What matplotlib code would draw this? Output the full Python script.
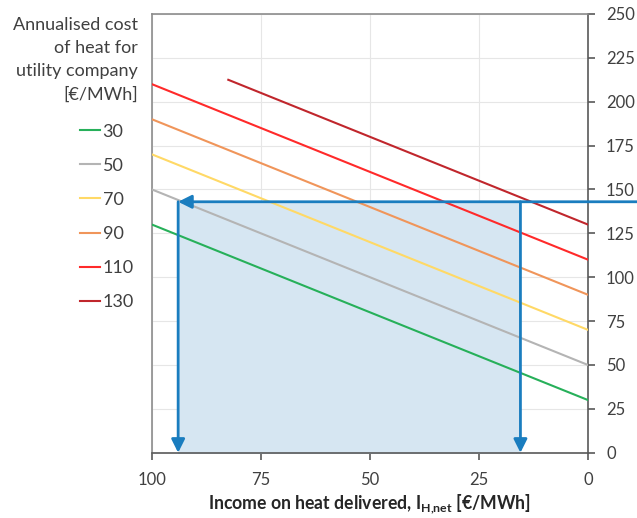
import matplotlib.pyplot as plt

plt.rcParams['font.family'] = ['Lato', 'DejaVu Sans']
plt.rcParams['mathtext.fontset'] = 'custom'
plt.rcParams['mathtext.rm'] = 'Lato'
plt.rcParams['mathtext.bf'] = 'Lato:bold'

# cost of heat lines (label, start/end points)
costs = ['30', '50', '70', '90', '110', '130']
x_start = [100, 100, 100, 100, 100, 82.5]
y_start = [130, 150, 170, 190, 210, 212.5]
x_end = [0, 0, 0, 0, 0, 0]
y_end = [30, 50, 70, 90, 110, 130]
colores = ['#27b05a', '#b4b4b4', '#ffd966', '#f0955a', '#ff2a2a', '#c0262c']

# example reading
nivel = 143
ingreso_alto = 94
ingreso_bajo = 15.5
azul = '#1a7dbf'

fig = plt.figure(figsize=(6.37, 5.18), dpi=100)
ax = fig.add_axes([0.2386, 0.126, 0.6845, 0.847])

ax.fill_between([ingreso_bajo, ingreso_alto], 0, nivel, color='#d6e6f2', zorder=1)

for i in range(len(costs)):
    ax.plot([x_start[i], x_end[i]], [y_start[i], y_end[i]], color=colores[i],
            lw=1.5, label=costs[i], zorder=3)

# arrows
ax.annotate('', xy=(ingreso_alto, nivel), xytext=(-11.5, nivel),
            arrowprops=dict(arrowstyle='-|>', color=azul, lw=2, mutation_scale=20,
                            shrinkA=0, shrinkB=0),
            annotation_clip=False, zorder=5)
for xx in [ingreso_alto, ingreso_bajo]:
    ax.annotate('', xy=(xx, 0), xytext=(xx, nivel),
                arrowprops=dict(arrowstyle='-|>', color=azul, lw=2, mutation_scale=20,
                                shrinkA=0, shrinkB=0),
                annotation_clip=False, zorder=5)

ax.set_xlim(100, 0)
ax.set_ylim(0, 250)
ax.set_xticks([100, 75, 50, 25, 0])
ax.set_yticks(range(0, 251, 25))
ax.yaxis.tick_right()
ax.grid(True, color='#e6e6e6', lw=0.8, zorder=0)
ax.set_axisbelow(True)

ax.spines['left'].set_color('#8c8c8c')
ax.spines['top'].set_color('#8c8c8c')
ax.spines['right'].set_color('#595959')
ax.spines['bottom'].set_color('#595959')
for s in ax.spines.values():
    s.set_linewidth(1.2)
ax.tick_params(axis='both', colors='#595959', labelcolor='#404040', labelsize=12,
               length=5, width=1.2)
ax.tick_params(axis='x', pad=9)
ax.tick_params(axis='y', pad=8)

ax.set_xlabel(r'Income on heat delivered, $\mathbf{I_{H{,}net}}$ [€/MWh]',
              fontsize=12.7, fontweight='bold', color='#262626', labelpad=3)

# legend title and entries
fig.text(138 / 637, 1 - 17 / 518, 'Annualised cost\nof heat for\nutility company\n[€/MWh]',
         ha='right', va='top', multialignment='right', fontsize=13,
         color='#404040', linespacing=1.54)
leg = ax.legend(loc='upper left', bbox_to_anchor=(-0.165, 0.75), frameon=False,
                fontsize=13, handlelength=1.1, handletextpad=0.15,
                labelspacing=1.0, borderpad=0, borderaxespad=0)
for t in leg.get_texts():
    t.set_color('#404040')

fig.savefig('out.png', dpi=100)
